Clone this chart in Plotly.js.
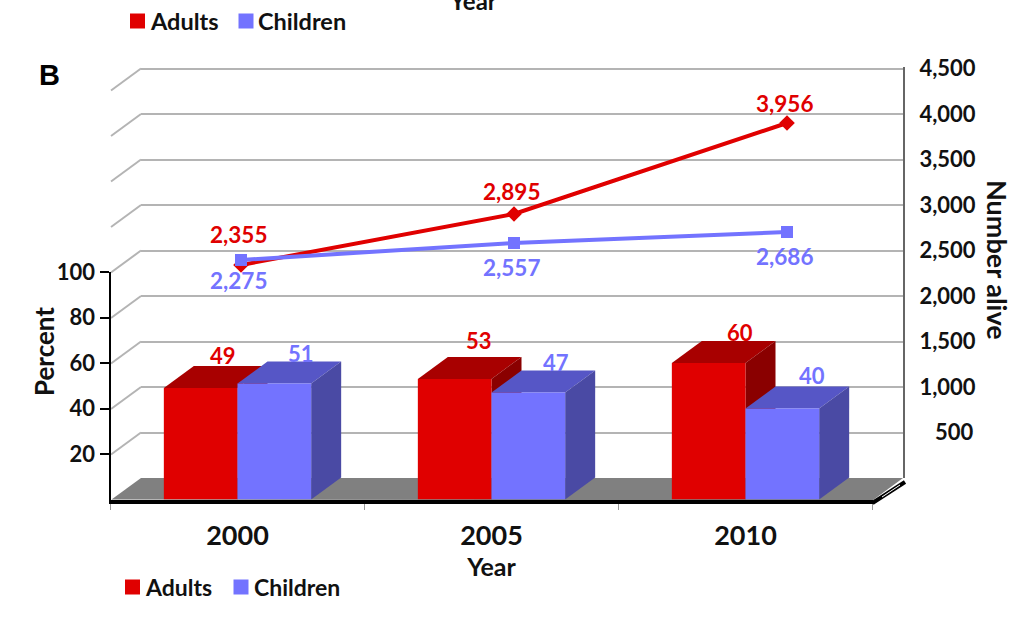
<!DOCTYPE html>
<html>
<head>
<meta charset="utf-8">
<script src="https://cdn.plot.ly/plotly-3.0.1.min.js"></script>
<style>html,body{margin:0;padding:0;background:#fff}#chart{width:1024px;height:624px}</style>
</head>
<body>
<div id="chart"></div>
<script>
// ---- data ----
const years = ['2000', '2005', '2010'];
const seriesNames = ['Adults', 'Children'];
const adultsPercent = [49, 53, 60];
const childrenPercent = [51, 47, 40];
const adultsAlivePlotted = [2341, 2901, 3901];
const childrenAlivePlotted = [2396, 2582, 2703];
const adultsAliveLabels = ['2,355', '2,895', '3,956'];
const childrenAliveLabels = ['2,275', '2,557', '2,686'];
const percentTicks = [20, 40, 60, 80, 100];
const aliveTicks = [500, 1000, 1500, 2000, 2500, 3000, 3500, 4000, 4500];
const aliveTickText = ['500', '1,000', '1,500', '2,000', '2,500', '3,000', '3,500', '4,000', '4,500'];

// ---- style ----
const W = 1024, H = 624;
const RED = '#e00000', RED_TOP = '#a80000', RED_SIDE = '#8a0000';
const BLUE = '#7373ff', BLUE_TOP = '#5656c6', BLUE_SIDE = '#4a4aa4';
const GRID = '#b4b4b4', INK = '#111111';
const FONT = 'Lato, "Open Sans", sans-serif';
const px = x => x / W, py = y => 1 - y / H;

// pixel geometry of the pseudo-3D box
const backL = 141, backR = 903, backBottom = 478, backTop = 68.5;
const aliveMax = 4520;
const pxPerAlive = (backBottom - backTop) / 4500;
const frontL = 110.5, frontR = 872.5, frontBottom = 499.5, frontTop = 272;
const depthX = 30, depthY = 22;
const barW = 0.29;
const dx = depthX / ((frontR - frontL) / 3);
const dy = depthY / ((frontBottom - frontTop) / 100);

const poly = (fill, pts, ref) => Object.assign({
  type: 'path', layer: 'below', fillcolor: fill, line: {width: 0},
  path: 'M' + pts.map(p => p[0] + ',' + p[1]).join('L') + 'Z'
}, ref);
const barRef = {xref: 'x2', yref: 'y2'};
const paperRef = {xref: 'paper', yref: 'paper'};
const pxPts = a => a.map(p => [px(p[0]), py(p[1])]);

const shapes = [];
// floor
shapes.push(poly('#808080', pxPts([[frontL + 1, frontBottom], [backL, backBottom], [backR, backBottom], [frontR, frontBottom + 1]]), paperRef));
// left wall diagonals
aliveTicks.forEach(v => {
  const y = backBottom - v * pxPerAlive;
  shapes.push({type: 'line', layer: 'below', xref: 'paper', yref: 'paper',
    x0: px(backL), y0: py(y), x1: px(backL - depthX), y1: py(y + depthY),
    line: {color: GRID, width: 2}});
});
// right corner of floor
shapes.push({type: 'line', xref: 'paper', yref: 'paper', x0: px(frontR), y0: py(503), x1: px(905), y1: py(482), line: {color: '#000', width: 4}});
shapes.push({type: 'line', xref: 'paper', yref: 'paper', x0: px(882), y0: py(497), x1: px(900), y1: py(485), line: {color: '#fff', width: 1}});

// 3D faces of the bars, computed from the values
function faces(vals, offset, top, side) {
  vals.forEach((v, i) => {
    const l = i + offset, r = l + barW;
    shapes.push(poly(top, [[l, v], [l + dx, v + dy], [r + dx, v + dy], [r, v]], barRef));
    shapes.push(poly(side, [[r, v], [r + dx, v + dy], [r + dx, dy], [r, 0]], barRef));
  });
}
faces(adultsPercent, -barW, RED_TOP, RED_SIDE);
faces(childrenPercent, 0, BLUE_TOP, BLUE_SIDE);

// legends
function swatch(x, y, c) {
  shapes.push({type: 'rect', xref: 'paper', yref: 'paper', x0: px(x), x1: px(x + 15), y0: py(y - 7.5), y1: py(y + 7.5), fillcolor: c, line: {width: 0}});
}
swatch(130, 21, RED); swatch(238.5, 21, BLUE);
swatch(125, 587, RED); swatch(233.5, 587, BLUE);

const txt = (text, x, y, size, color, extra) => Object.assign({
  text: '<b>' + text + '</b>', xref: 'paper', yref: 'paper', x: px(x), y: py(y),
  showarrow: false, xanchor: 'center', yanchor: 'middle',
  font: {family: FONT, size: size, color: color}
}, extra || {});

const annotations = [
  txt('B', 49.5, 75, 29, '#000', {font: {family: '"Liberation Sans", Arial, sans-serif', size: 29, color: '#000'}}),
  txt('Year', 473, 1, 24, INK),
  txt(seriesNames[0], 148, 21, 23.5, INK, {xanchor: 'left'}),
  txt(seriesNames[1], 256, 21, 23.5, INK, {xanchor: 'left'}),
  txt(seriesNames[0], 143, 587, 23, INK, {xanchor: 'left'}),
  txt(seriesNames[1], 252, 587, 23, INK, {xanchor: 'left'}),
  txt('Percent', 44, 352, 26, INK, {textangle: -90}),
  txt('Number alive', 998, 260, 27, INK, {textangle: 90})
];

// value labels on the bars
const adultDx = [22, 24, 31], adultDy = [-33, -38, -31];
const childDx = [27, 28, 30], childDy = [-30, -30, -33];
function barLabels(vals, offset, color, ddx, ddy) {
  vals.forEach((v, i) => annotations.push({
    text: '<b>' + v + '</b>', xref: 'x2', yref: 'y2', x: i + offset + barW / 2, y: v,
    xshift: ddx[i], yshift: -ddy[i], showarrow: false, yanchor: 'middle',
    font: {family: FONT, size: 22, color: color}
  }));
}
barLabels(adultsPercent, -barW, RED, adultDx, adultDy);
barLabels(childrenPercent, 0, BLUE, childDx, childDy);

// value labels on the lines
const adultLineDy = [30, 23, 20], childLineDy = [-21, -24, -24];
function lineLabels(vals, labels, color, ddy) {
  vals.forEach((v, i) => annotations.push({
    text: '<b>' + labels[i] + '</b>', xref: 'x', yref: 'y', x: i, y: v,
    xshift: -2.5, yshift: ddy[i], showarrow: false, yanchor: 'middle',
    font: {family: FONT, size: 22.5, color: color}
  }));
}
lineLabels(adultsAlivePlotted, adultsAliveLabels, RED, adultLineDy);
lineLabels(childrenAlivePlotted, childrenAliveLabels, BLUE, childLineDy);

const idx = [0, 1, 2];
const traces = [
  {type: 'scatter', mode: 'lines+markers', x: idx, y: adultsAlivePlotted, xaxis: 'x', yaxis: 'y', name: seriesNames[0], showlegend: false,
   line: {color: RED, width: 4}, marker: {symbol: 'diamond', size: 12, color: RED}},
  {type: 'scatter', mode: 'lines+markers', x: idx, y: childrenAlivePlotted, xaxis: 'x', yaxis: 'y', name: seriesNames[1], showlegend: false,
   line: {color: BLUE, width: 4}, marker: {symbol: 'square', size: 12, color: BLUE}},
  {type: 'bar', x: idx, y: adultsPercent, xaxis: 'x2', yaxis: 'y2', name: seriesNames[0], showlegend: false, marker: {color: RED, line: {width: 0}}},
  {type: 'bar', x: idx, y: childrenPercent, xaxis: 'x2', yaxis: 'y2', name: seriesNames[1], showlegend: false, marker: {color: BLUE, line: {width: 0}}}
];

const spacing = 273, firstPoint = 241;
const layout = {
  width: W, height: H, margin: {l: 0, r: 0, t: 0, b: 0, pad: 0},
  paper_bgcolor: '#fff', plot_bgcolor: 'rgba(0,0,0,0)', showlegend: false,
  barmode: 'group', bargap: 0.42, bargroupgap: 0,
  xaxis: {domain: [px(backL), px(backR)], anchor: 'y', visible: false,
    range: [(backL - firstPoint) / spacing, (backR - firstPoint) / spacing]},
  yaxis: {domain: [py(backBottom), py(backBottom - aliveMax * pxPerAlive)], anchor: 'x', side: 'right', range: [0, aliveMax],
    tickmode: 'array', tickvals: aliveTicks,
    ticktext: aliveTickText.map(t => '<b>' + (t.length < 5 ? '\u2007\u2009' + t : t) + '</b>'),
    showgrid: true, gridcolor: GRID, gridwidth: 2, zeroline: false,
    showline: true, linecolor: '#666', linewidth: 2, ticks: '', ticklabelstandoff: 10,
    tickfont: {family: FONT, size: 22, color: INK}},
  xaxis2: {domain: [px(frontL), px(frontR)], anchor: 'y2', range: [-0.5, 2.5],
    tickmode: 'array', tickvals: idx, ticktext: years.map(y => '<b>' + y + '</b>'),
    ticks: '', ticklabelstandoff: 9, showgrid: false, zeroline: false,
    showline: true, linecolor: '#000', linewidth: 4,
    minor: {tickmode: 'array', tickvals: [-0.5, 0.5, 1.5, 2.5], ticks: 'outside', ticklen: 6, tickcolor: '#999', tickwidth: 1},
    tickfont: {family: FONT, size: 27, color: INK},
    title: {text: '<b>Year</b>', standoff: 8, font: {family: FONT, size: 25, color: INK}}},
  yaxis2: {domain: [py(frontBottom), py(frontTop)], anchor: 'x2', side: 'left', range: [0, 100],
    tickmode: 'array', tickvals: percentTicks, ticktext: percentTicks.map(t => '<b>' + t + '</b>'),
    ticks: 'outside', ticklen: 9, tickcolor: '#000', tickwidth: 2, showgrid: false, zeroline: false,
    showline: true, linecolor: '#000', linewidth: 2,
    tickfont: {family: FONT, size: 22, color: INK}},
  shapes: shapes,
  annotations: annotations
};
Plotly.newPlot('chart', traces, layout, {displayModeBar: false, responsive: false});
</script>
</body>
</html>
